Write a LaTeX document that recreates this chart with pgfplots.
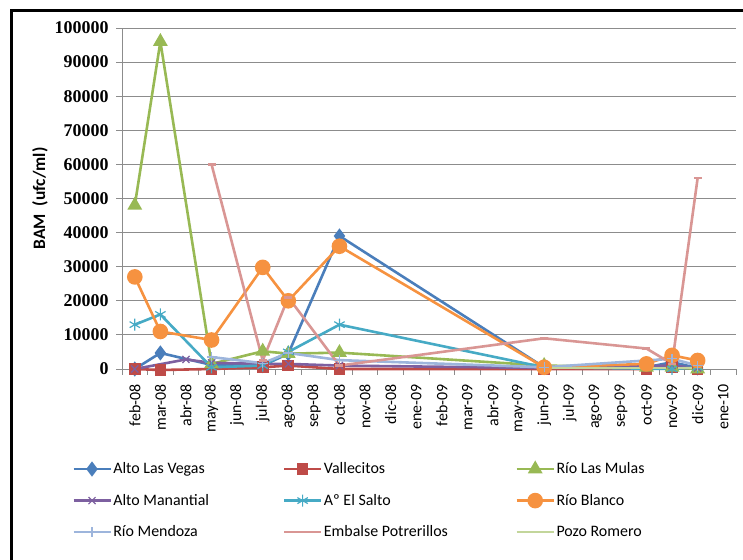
\documentclass[border=0pt]{standalone}
\usepackage{pgfplots}
\pgfplotsset{compat=1.18}
\usepackage{fontspec}
\setmainfont{Carlito}
\newfontfamily\tnr{Liberation Serif}
\definecolor{cA}{HTML}{4A7EBB}
\definecolor{cB}{HTML}{BE4B48}
\definecolor{cC}{HTML}{98B954}
\definecolor{cD}{HTML}{7D60A0}
\definecolor{cE}{HTML}{46AAC5}
\definecolor{cF}{HTML}{F69240}
\definecolor{cG}{HTML}{9DB5DC}
\definecolor{cH}{HTML}{D99694}
\definecolor{cI}{HTML}{C3D69B}
\definecolor{gridc}{HTML}{8C8C8C}
\begin{document}
\begin{tikzpicture}[x=1bp,y=1bp]
\useasboundingbox (0,0) rectangle (743,560);
\draw[line width=3bp,black] (11,0) -- (11,549) -- (743,549);
\begin{axis}[
  at={(122bp,191bp)}, anchor=south west,
  scale only axis, width=614bp, height=341bp,
  xmin=-0.5, xmax=23.5, ymin=0, ymax=100000,
  clip=false,
  axis lines*=left,
  axis line style={gridc, line width=0.9bp},
  ytick={0,10000,...,100000},
  ymajorgrids, major grid style={gridc, line width=0.9bp},
  tick align=outside,
  major tick length=6bp,
  minor tick length=6bp,
  tick style={gridc, line width=0.9bp},
  xtick={0,...,23},
  major x tick style={draw=none},
  minor xtick={-0.5,0.5,...,23.5},
  xticklabels={feb-08,mar-08,abr-08,may-08,jun-08,jul-08,ago-08,sep-08,oct-08,nov-08,dic-08,ene-09,feb-09,mar-09,abr-09,may-09,jun-09,jul-09,ago-09,sep-09,oct-09,nov-09,dic-09,ene-10},
  xticklabel style={rotate=90, anchor=east, font=\fontsize{16}{16}\selectfont, inner sep=1bp},
  xticklabel shift=8bp,
  xtick pos=bottom,
  ytick pos=left,
  scaled y ticks=false,
  yticklabel style={/pgf/number format/fixed, /pgf/number format/1000 sep={}, /pgf/number format/assume math mode=true, font=\tnr\bfseries\fontsize{18}{18}\selectfont},
  yticklabel shift=4bp,
  ylabel={\textbf{BAM~~(ufc/ml)}},
  ylabel style={font=\fontsize{17.5}{17.5}\selectfont, at={(axis description cs:-0.1335,0.5)}, anchor=center, rotate=0},
  every axis plot/.append style={line width=2.6bp, mark options={solid}},
  legend columns=3,
  legend cell align=left,
  legend style={at={(axis description cs:-0.0814,-0.27)}, anchor=north west, draw=none, fill=none,
    font=\fontsize{16}{16}\selectfont, column sep=0pt, row sep=16bp, inner sep=0pt,
    nodes={inner sep=1.5bp}},
  legend image code/.code={\draw[mark repeat=2,mark phase=2] plot coordinates {(0bp,0bp)(18.5bp,0bp)(37bp,0bp)};},
]
\addplot[cA, mark=diamond*, mark size=5.5bp] coordinates {(0,0)(1,4700)(3,1200)(5,1000)(6,4500)(8,39000)(16,500)(20,500)(21,2000)(22,300)};
\addlegendentry{\makebox[168bp][l]{Alto Las Vegas}}
\addplot[cB, mark=square*, mark size=4.5bp] coordinates {(0,0)(1,-300)(3,0)(5,500)(6,1000)(8,0)(16,0)(20,0)(21,500)(22,0)};
\addlegendentry{\makebox[190bp][l]{Vallecitos}}
\addplot[cC, mark=triangle*, mark size=6bp] coordinates {(0,48000)(1,96000)(3,1500)(5,5200)(6,4500)(8,4800)(16,1000)(20,500)(21,500)(22,0)};
\addlegendentry{Río Las Mulas}
\addplot[cD, mark=x, mark size=5bp, mark options={line width=1.2bp}] coordinates {(0,0)(2,2800)(3,1800)(5,1500)(6,1500)(8,1000)(16,300)(21,1000)(22,300)};
\addlegendentry{\makebox[168bp][l]{Alto Manantial}}
\addplot[cE, mark=asterisk, mark size=6bp, mark options={line width=1.2bp}] coordinates {(0,13000)(1,16000)(3,500)(5,1000)(6,5000)(8,13000)(16,500)(21,0)(22,500)};
\addlegendentry{\makebox[190bp][l]{Aº El Salto}}
\addplot[cF, mark=*, mark size=6.5bp] coordinates {(0,27000)(1,11000)(3,8500)(5,29800)(6,20000)(8,36000)(16,500)(20,1500)(21,4000)(22,2500)};
\addlegendentry{Río Blanco}
\addplot[cG, mark=+, mark size=5bp, mark options={line width=1.2bp}] coordinates {(3,3500)(5,1700)(6,4700)(8,2600)(16,500)(21,3000)(22,1000)};
\addlegendentry{\makebox[168bp][l]{Río Mendoza}}
\addplot[cH, mark=-, mark size=4bp] coordinates {(3,60000)(5,2500)(6,21000)(8,1000)(16,9000)(20,6000)(21,1500)(22,56000)};
\addlegendentry{\makebox[190bp][l]{Embalse Potrerillos}}
\addplot[cI] coordinates {(16,300)(20,300)(21,300)(22,300)};
\addlegendentry{Pozo Romero}
\end{axis}
\end{tikzpicture}
\end{document}
